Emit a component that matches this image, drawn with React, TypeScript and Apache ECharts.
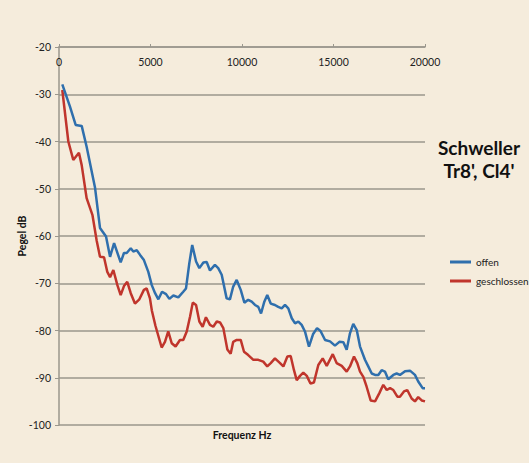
import React, { useEffect, useRef } from "react";
import * as echarts from "echarts";

const freqOffen = [180, 600, 910, 1240, 1510, 1970, 2240, 2570, 2790, 3010, 3370, 3550, 3700, 3920, 4060, 4250, 4430, 4640, 4880, 5070, 5250, 5430, 5630, 5850, 6030, 6250, 6520, 6790, 6940, 7120, 7280, 7490, 7670, 7890, 8070, 8250, 8520, 8700, 8890, 9160, 9340, 9520, 9710, 9930, 10130, 10340, 10530, 10710, 10890, 11040, 11220, 11380, 11570, 11800, 11980, 12170, 12350, 12530, 12720, 12900, 13080, 13260, 13440, 13660, 13880, 14100, 14290, 14540, 14810, 15080, 15320, 15540, 15720, 15900, 16080, 16270, 16450, 16720, 16900, 17090, 17270, 17450, 17630, 17810, 17990, 18270, 18450, 18630, 18910, 19180, 19450, 19630, 19870, 20000];
const pegelOffen = [-27.9, -32.6, -36.5, -36.7, -41.1, -49.8, -58.3, -60.1, -64.4, -61.5, -65.6, -63.6, -63.6, -62.6, -63.3, -63, -64, -65.1, -67.6, -70.4, -72.1, -73.4, -71.8, -72.3, -73.3, -72.6, -73, -71.8, -71.1, -65.8, -61.9, -65.4, -66.8, -65.6, -65.5, -67.3, -66.1, -66.8, -68.2, -73.2, -73.4, -70.7, -69.3, -71.4, -74.1, -73.5, -73.9, -74.6, -75, -76.4, -73.9, -72.5, -74.3, -74.6, -75, -75.3, -74.6, -75.3, -77.4, -78.5, -78.1, -78.8, -80.2, -83.4, -80.8, -79.5, -80.1, -82, -82.3, -83.2, -82.4, -82.5, -84.1, -80.6, -78.6, -79.9, -83.4, -86.2, -87.6, -89.1, -89.4, -89.4, -88.4, -88.7, -90.3, -89.4, -89.1, -89.4, -88.6, -88.5, -89.4, -90.8, -92.2, -92.2];

const freqGeschlossen = [180, 510, 780, 1090, 1240, 1510, 1830, 2060, 2240, 2460, 2640, 2790, 2970, 3190, 3370, 3550, 3730, 3920, 4150, 4390, 4640, 4790, 4970, 5070, 5270, 5610, 5790, 5970, 6160, 6370, 6610, 6790, 6980, 7160, 7310, 7490, 7670, 7850, 8030, 8250, 8430, 8620, 8800, 8980, 9200, 9380, 9520, 9710, 9930, 10110, 10340, 10620, 10890, 11160, 11380, 11570, 11800, 12080, 12260, 12480, 12660, 12840, 12990, 13170, 13350, 13540, 13740, 13930, 14170, 14410, 14630, 14960, 15170, 15450, 15720, 15900, 16120, 16300, 16450, 16630, 16810, 17030, 17270, 17500, 17720, 17910, 18090, 18270, 18490, 18630, 18850, 19030, 19270, 19450, 19630, 19820, 20000];
const pegelGeschlossen = [-29.1, -40, -43.9, -42.4, -45, -52, -55.6, -61, -64.4, -64.5, -67.6, -68.7, -67.2, -70.4, -72.5, -70.6, -69.7, -72.1, -74.3, -73.4, -71.4, -71.1, -73.2, -75.7, -79, -83.6, -82.4, -80.2, -82.7, -83.4, -82, -82, -80.2, -77.1, -74.1, -74.6, -78.1, -79.2, -77.2, -78.8, -79.2, -78.1, -78.3, -79.5, -84, -84.9, -82.4, -82, -82, -84.5, -85.2, -86.2, -86.2, -86.6, -87.6, -86.9, -85.9, -86.9, -87.6, -85.5, -85.4, -88.4, -90.5, -89.6, -88.9, -89.6, -91.2, -91, -87.3, -85.9, -87.5, -85, -86.9, -87.5, -88.7, -87.6, -85.5, -86.9, -88.7, -89.8, -91.9, -94.8, -95, -93.3, -91.5, -92.6, -92.2, -92.6, -94, -94, -92.9, -92.6, -94.4, -95, -94.1, -94.8, -95];

const seriesNames = ["offen", "geschlossen"];
const titleLines = ["Schweller", "Tr8', Cl4'"];
const xAxisTitle = "Frequenz Hz";
const yAxisTitle = "Pegel dB";

const FONT = "Lato, 'Open Sans', sans-serif";

export default function App() {
  const ref = useRef<HTMLDivElement>(null);
  useEffect(() => {
    if (!ref.current) return;
    const chart = echarts.init(ref.current, null, { renderer: "svg" });
    const gridColor = "#9a978d";
    chart.setOption({
      animation: false,
      backgroundColor: "#f5ecdc",
      textStyle: { fontFamily: FONT },
      grid: { left: 59, top: 47, right: 104, bottom: 38, outerBoundsMode: "none" },
      legend: {
        orient: "vertical",
        left: 450,
        top: 257,
        itemWidth: 21,
        itemHeight: 3,
        itemGap: 9,
        icon: "rect",
        padding: 0,
        data: seriesNames,
        textStyle: { fontSize: 10, color: "#222", fontFamily: FONT },
      },
      xAxis: {
        type: "value",
        position: "top",
        min: 0,
        max: 20000,
        interval: 5000,
        axisLine: { show: true, onZero: false, lineStyle: { color: gridColor, width: 1.5 } },
        axisTick: { show: true, length: 3, lineStyle: { color: gridColor } },
        axisLabel: {
          inside: true,
          margin: 9,
          fontSize: 10.5,
          color: "#222",
          fontFamily: FONT,
          formatter: (v: number) => String(v),
        },
        splitLine: { show: false },
      },
      yAxis: {
        type: "value",
        min: -100,
        max: -20,
        interval: 10,
        axisLine: { show: true, lineStyle: { color: gridColor, width: 1.5 } },
        axisTick: { show: true, length: 4, lineStyle: { color: gridColor } },
        axisLabel: { margin: 8, fontSize: 10.5, color: "#222", fontFamily: FONT },
        splitLine: { show: true, lineStyle: { color: gridColor, width: 1.5 } },
      },
      graphic: [
        {
          type: "text",
          x: 479,
          y: 147,
          style: { text: titleLines[0], font: `bold 19px ${FONT}`, fill: "#111", align: "center", verticalAlign: "middle" },
        },
        {
          type: "text",
          x: 479,
          y: 170,
          style: { text: titleLines[1], font: `bold 19px ${FONT}`, fill: "#111", align: "center", verticalAlign: "middle" },
        },
        {
          type: "text",
          x: 242,
          y: 435,
          style: { text: xAxisTitle, font: `bold 10.5px ${FONT}`, fill: "#111", align: "center", verticalAlign: "middle" },
        },
        {
          type: "text",
          x: 22,
          y: 236,
          rotation: Math.PI / 2,
          style: { text: yAxisTitle, font: `bold 10.5px ${FONT}`, fill: "#111", align: "center", verticalAlign: "middle" },
        },
      ],
      series: [
        {
          name: seriesNames[0],
          type: "line",
          showSymbol: false,
          color: "#2f6fad",
          lineStyle: { width: 2.5, color: "#2f6fad" },
          data: freqOffen.map((f, i) => [f, pegelOffen[i]]),
          z: 3,
        },
        {
          name: seriesNames[1],
          type: "line",
          showSymbol: false,
          color: "#c0352c",
          lineStyle: { width: 2.5, color: "#c0352c" },
          data: freqGeschlossen.map((f, i) => [f, pegelGeschlossen[i]]),
          z: 2,
        },
      ],
    });
    return () => chart.dispose();
  }, []);
  return (
    <div
      ref={ref}
      style={{ position: "fixed", left: 0, top: 0, width: 529, height: 463 }}
    />
  );
}
